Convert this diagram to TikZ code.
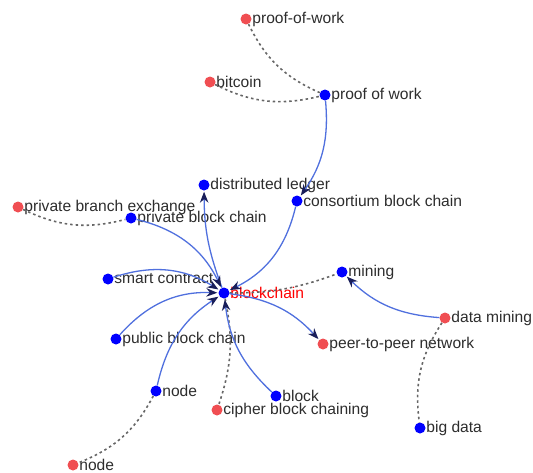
\documentclass[tikz,border=0pt]{standalone}
\usepackage{fontspec}
\setmainfont{Liberation Sans}
\usetikzlibrary{arrows.meta}
\definecolor{edgeblue}{RGB}{80,112,222}
\definecolor{tipblue}{RGB}{25,30,90}
\definecolor{dotred}{RGB}{240,78,82}
\definecolor{txt}{RGB}{45,45,45}

\begin{document}
\begin{tikzpicture}[x=1pt,y=-1pt,
    b/.style={circle,fill=blue,inner sep=0pt,minimum size=11pt},
    r/.style={circle,fill=dotred,inner sep=0pt,minimum size=11pt},
    t/.style={font=\fontsize{15.6}{17}\selectfont,text=txt,inner sep=0.5pt},
    e/.style={edgeblue,line width=1.3pt,-{Stealth[length=11pt,width=8.5pt,color=tipblue]},shorten >=1pt},
    d/.style={gray!80!black,line width=1.6pt,dash pattern=on 2.5pt off 3pt}]
    \useasboundingbox (0,0) rectangle (533,472);
    \node[r,label={[t]right:proof-of-work}] (powr) at (246,19) {};
    \node[r,label={[t]right:bitcoin}] (btc) at (210,82) {};
    \node[b,label={[t]right:proof of work}] (pow) at (325,95) {};
    \node[b,label={[t]right:distributed ledger}] (dl) at (204,185) {};
    \node[b,label={[t]right:consortium block chain}] (cbc) at (297,201) {};
    \node[r,label={[t]right:private branch exchange}] (pbx) at (18,207) {};
    \node[b,label={[t]right:private block chain}] (pbc) at (131,218) {};
    \node[b,label={[t]right:smart contract}] (sc) at (108,279) {};
    \node[b,label={[t,text=red]right:blockchain}] (bc) at (224,293) {};
    \node[b,label={[t]right:mining}] (min) at (342,272) {};
    \node[r,label={[t]right:data mining}] (dm) at (445,318) {};
    \node[b,label={[t]right:public block chain}] (pub) at (116,339) {};
    \node[r,label={[t]right:peer-to-peer network}] (p2p) at (323,344) {};
    \node[b,label={[t]right:node}] (nd) at (156,391) {};
    \node[b,label={[t]right:block}] (blk) at (276,396) {};
    \node[r,label={[t]right:cipher block chaining}] (cip) at (217,410) {};
    \node[b,label={[t]right:big data}] (bd) at (420,428) {};
    \node[r,label={[t]right:node}] (ndr) at (73,465) {};
    % related terms
    \draw[d] (powr) to[bend right=20] (pow);
    \draw[d] (btc) to[bend right=20] (pow);
    \draw[d] (pbx) to[bend right=20] (pbc);
    \draw[d] (bc) to[bend right=10] (min);
    \draw[d] (bc) to[bend left=15] (cip);
    \draw[d] (dm) to[bend right=20] (bd);
    \draw[d] (nd) to[bend left=20] (ndr);
    % links
    \draw[e] (pow) to[bend left=20] (cbc);
    \draw[e] (cbc) to[bend left=25] (bc);
    \draw[e] (bc) to[bend left=10] (dl);
    \draw[e] (pbc) to[bend left=25] (bc);
    \draw[e] (sc) to[bend left=25] (bc);
    \draw[e] (pub) to[bend left=25] (bc);
    \draw[e] (nd) to[bend left=22] (bc);
    \draw[e] (blk) to[bend left=20] (bc);
    \draw[e] (bc) to[bend left=20] (p2p);
    \draw[e] (dm) to[bend left=20] (min);
\end{tikzpicture}
\end{document}
